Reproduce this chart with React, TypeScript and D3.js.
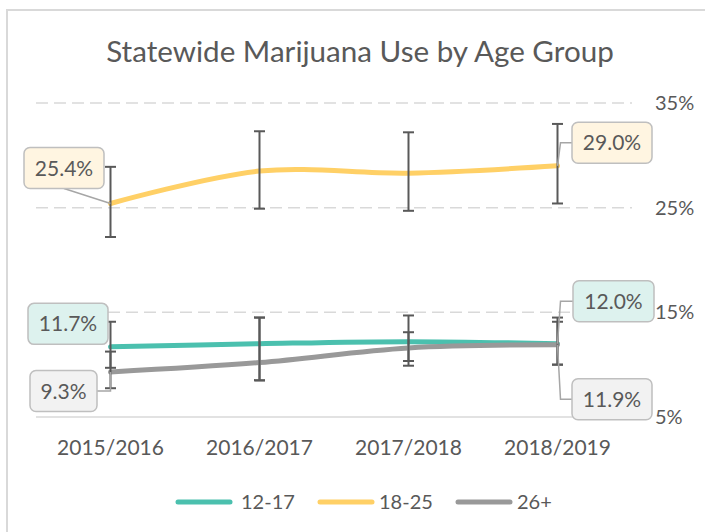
import React from "react";
import * as d3 from "d3";

const years = ["2015/2016", "2016/2017", "2017/2018", "2018/2019"];
const seriesNames = ["12-17", "18-25", "26+"];
const seriesColors = ["#4BC0AE", "#FFD066", "#999999"];
const v1217 = [11.7, 12.0, 12.2, 12.0];
const v1825 = [25.4, 28.5, 28.3, 29.0];
const v26 = [9.3, 10.2, 11.6, 11.9];
const lo1217 = [9.7, 8.5, 9.9, 10.0];
const hi1217 = [14.1, 14.5, 14.7, 14.5];
const lo1825 = [22.2, 24.9, 24.7, 25.4];
const hi1825 = [28.9, 32.3, 32.2, 33.0];
const lo26 = [7.75, 8.5, 10.35, 10.0];
const hi26 = [11.25, 14.5, 13.1, 14.1];
const yTicks = [5, 15, 25, 35];

const FONT = "Lato, 'Open Sans', sans-serif";
const TXT = "#595959";

export default function App() {
  const W = 705, H = 532;
  const left = 36, right = 632, top = 103, bottom = 417;
  const x = d3.scalePoint<string>().domain(years).range([left, right]).padding(0.5);
  const y = d3.scaleLinear().domain([5, 35]).range([bottom, top]);
  const line = d3
    .line<number>()
    .x((_, i) => x(years[i]) as number)
    .y((d) => y(d))
    .curve(d3.curveCatmullRom.alpha(0.5));

  const values = [v1217, v1825, v26];
  const lows = [lo1217, lo1825, lo26];
  const highs = [hi1217, hi1825, hi26];
  const fills = ["#DDF2EE", "#FFF5E1", "#F2F2F2"];

  const labels = [
    { s: 1, i: 0, bx: -86.5, by: -56, w: 80, h: 41, leader: "bottom" },
    { s: 1, i: 3, bx: 14.5, by: -43.5, w: 80, h: 41, leader: "left" },
    { s: 0, i: 0, bx: -82.5, by: -43.5, w: 80, h: 41, leader: "none" },
    { s: 2, i: 0, bx: -80.5, by: -1.5, w: 67, h: 41, leader: "right" },
    { s: 0, i: 3, bx: 15.5, by: -63, w: 81, h: 41, leader: "left" },
    { s: 2, i: 3, bx: 14.5, by: 34, w: 80, h: 41, leader: "left" },
  ];

  const fmt = (v: number) => v.toFixed(1) + "%";

  return (
    <svg
      width={W}
      height={H}
      style={{ position: "absolute", left: 0, top: 0, background: "#fff" }}
      fontFamily={FONT}
    >
      <rect x={7} y={10} width={720} height={560} fill="#fff" stroke="#D9D9D9" strokeWidth={2} />
      <text x={360} y={62} textAnchor="middle" fontSize={29.6} fill={TXT}>
        Statewide Marijuana Use by Age Group
      </text>

      {yTicks.map((t) => (
        <g key={t}>
          <line
            x1={left}
            x2={right}
            y1={y(t)}
            y2={y(t)}
            stroke="#D9D9D9"
            strokeWidth={1.5}
            strokeDasharray={t === 5 ? undefined : "12,6"}
          />
          <text x={655} y={y(t)} dy="0.35em" fontSize={20} fill={TXT}>
            {t}%
          </text>
        </g>
      ))}

      {years.map((yr) => (
        <text key={yr} x={x(yr)} y={455} textAnchor="middle" fontSize={21} fill={TXT}>
          {yr}
        </text>
      ))}

      {values.map((vals, s) => (
        <g key={s}>
          <path d={line(vals) || ""} fill="none" stroke={seriesColors[s]} strokeWidth={5} strokeLinecap="round" />
          {vals.map((_, i) => {
            const cx = x(years[i]) as number;
            const y1 = y(highs[s][i]);
            const y2 = y(lows[s][i]);
            return (
              <g key={i} stroke="#595959" strokeWidth={2}>
                <line x1={cx} x2={cx} y1={y1} y2={y2} />
                <line x1={cx - 5.5} x2={cx + 5.5} y1={y1} y2={y1} />
                <line x1={cx - 5.5} x2={cx + 5.5} y1={y2} y2={y2} />
              </g>
            );
          })}
        </g>
      ))}

      {labels.map((l, k) => {
        const px = x(years[l.i]) as number;
        const py = y(values[l.s][l.i]);
        const bx = px + l.bx;
        const by = py + l.by;
        let pts: [number, number][] = [];
        if (l.leader === "bottom") pts = [[bx + 40, by + l.h], [px, py]];
        if (l.leader === "left") pts = [[bx, by + l.h / 2], [px + 3, by + l.h / 2], [px, py]];
        if (l.leader === "right") pts = [[bx + l.w, by + l.h / 2], [px, by + l.h / 2], [px, py]];
        return (
          <g key={k}>
            {pts.length > 0 && (
              <polyline
                points={pts.map((p) => p.join(",")).join(" ")}
                fill="none"
                stroke="#A6A6A6"
                strokeWidth={1.5}
              />
            )}
            <rect x={bx} y={by} width={l.w} height={l.h} rx={6} fill={fills[l.s]} stroke="#BFBFBF" strokeWidth={1.5} />
            <text x={bx + l.w / 2} y={by + l.h / 2} dy="0.36em" textAnchor="middle" fontSize={21} fill={TXT}>
              {fmt(values[l.s][l.i])}
            </text>
          </g>
        );
      })}

      {seriesNames.map((n, s) => {
        const lx = [176, 318, 456][s];
        return (
          <g key={n}>
            <line x1={lx + 2} x2={lx + 54} y1={502} y2={502} stroke={seriesColors[s]} strokeWidth={5} strokeLinecap="round" />
            <text x={lx + (s === 0 ? 65 : 61)} y={502} dy="0.35em" fontSize={20} fill={TXT}>
              {n}
            </text>
          </g>
        );
      })}
    </svg>
  );
}
